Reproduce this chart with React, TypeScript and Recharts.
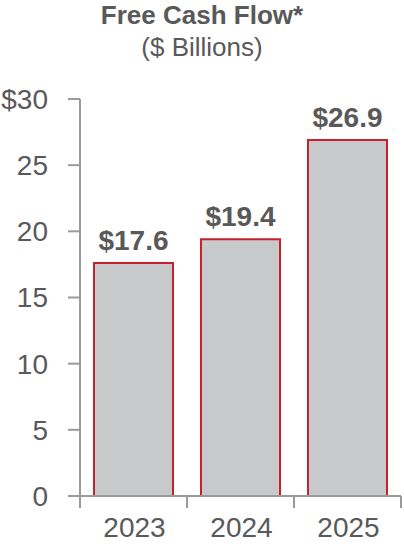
import { BarChart, Bar, XAxis, YAxis, LabelList } from "recharts"

const years = ["2023", "2024", "2025"]
const cashFlow = [17.6, 19.4, 26.9]
const yTicks = [0, 5, 10, 15, 20, 25, 30]

const data = years.map((year, i) => ({ year, value: cashFlow[i] }))

const FONT = "'Liberation Sans', Arial, sans-serif"
const TEXT = "#595959"
const AXIS = "#9a9a9a"

const YearTick = (props: any) => {
  const { x, y, payload, index, width, visibleTicksCount } = props
  const band = width / visibleTicksCount
  const left = x - band / 2
  const right = x + band / 2
  return (
    <g>
      <line x1={left} y1={y - 8} x2={left} y2={y + 4} stroke={AXIS} strokeWidth={2} />
      {index === visibleTicksCount - 1 && (
        <line x1={right} y1={y - 8} x2={right} y2={y + 4} stroke={AXIS} strokeWidth={2} />
      )}
      <text x={x + 1} y={y + 26} textAnchor="middle" dominantBaseline="middle" fontSize={28} fill={TEXT} fontFamily={FONT}>
        {payload.value}
      </text>
    </g>
  )
}

export default function App() {
  return (
    <div style={{ position: "absolute", left: 0, top: 0, width: 404, height: 548, background: "#fff", fontFamily: FONT }}>
      <div style={{ position: "absolute", top: 0, left: 0, width: 404, textAlign: "center", fontSize: 26, fontWeight: "bold", color: TEXT, lineHeight: "30px" }}>
        Free Cash Flow*
      </div>
      <div style={{ position: "absolute", top: 31, left: 0, width: 404, textAlign: "center", fontSize: 26, color: TEXT, lineHeight: "32px" }}>
        ($ Billions)
      </div>
      <BarChart width={404} height={548} data={data} margin={{ top: 99, right: 3, bottom: 0, left: 0 }} barCategoryGap={14}>
        <XAxis
          dataKey="year"
          height={52}
          axisLine={{ stroke: AXIS, strokeWidth: 2 }}
          tickLine={false}
          tick={<YearTick />}
          interval={0}
        />
        <YAxis
          width={80}
          domain={[0, 30]}
          ticks={yTicks}
          interval={0}
          tickSize={12}
          tickMargin={20}
          axisLine={{ stroke: AXIS, strokeWidth: 2 }}
          tickLine={{ stroke: AXIS, strokeWidth: 2 }}
          tick={{ fontSize: 28, fill: TEXT, fontFamily: FONT }}
          tickFormatter={(v: number) => (v === 30 ? "$30" : String(v))}
        />
        <Bar dataKey="value" fill="#c8c9cb" stroke="#c8202f" strokeWidth={2} isAnimationActive={false}>
          <LabelList
            dataKey="value"
            position="top"
            offset={13}
            formatter={(v: any) => `$${v}`}
            style={{ fontSize: 28, fontWeight: "bold", fill: TEXT, fontFamily: FONT }}
          />
        </Bar>
      </BarChart>
    </div>
  )
}
